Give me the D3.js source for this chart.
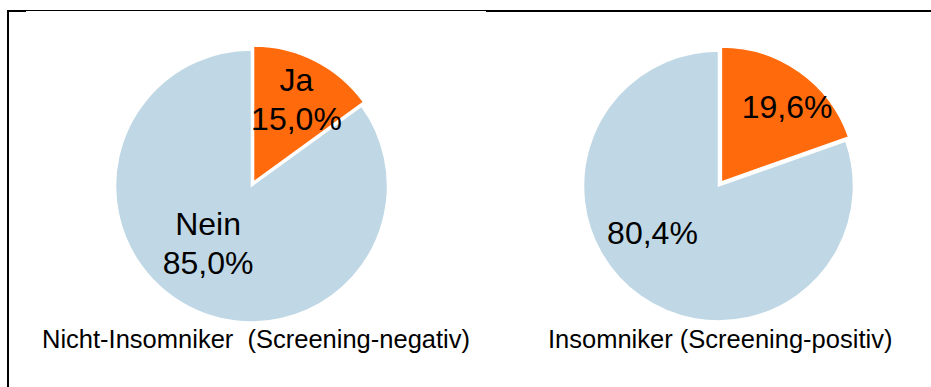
<!DOCTYPE html>
<html>
<head>
<meta charset="utf-8">
<script src="https://cdn.jsdelivr.net/npm/d3@7"></script>
<style>
  html, body { margin: 0; padding: 0; background: #fff; }
  svg { display: block; }
  text { font-family: "Liberation Sans", Arial, Helvetica, sans-serif; fill: #000; }
</style>
</head>
<body>
<svg id="chart" width="931" height="387"></svg>
<script>
// Answer categories and shares (percent) for the two groups
const categories = ["Ja", "Nein"];
const groupTitles = ["Nicht-Insomniker  (Screening-negativ)", "Insomniker (Screening-positiv)"];
const nichtInsomniker = [15.0, 85.0];
const insomniker = [19.6, 80.4];
// Whether the category name is printed next to the percentage
const showCategory = [true, false];

const colors = d3.scaleOrdinal().domain(categories).range(["#ff6a0c", "#c0d8e5"]);
const fmt = v => d3.format(".1f")(v).replace(".", ",") + "%";

const svg = d3.select("#chart");

// Frame lines
svg.append("rect").attr("x", 7).attr("y", 10).attr("width", 2).attr("height", 377).attr("fill", "#000");
svg.append("rect").attr("x", 7).attr("y", 10).attr("width", 19).attr("height", 2).attr("fill", "#000");
svg.append("rect").attr("x", 26).attr("y", 10).attr("width", 460).attr("height", 1).attr("fill", "#000");
svg.append("rect").attr("x", 486).attr("y", 10).attr("width", 445).attr("height", 2).attr("fill", "#000");

const layout = [
  { cx: 251.5, cy: 186, r: 136, titleX: 42, nudge: [[5, -9], [-3.5, -21]] },
  { cx: 718.5, cy: 186, r: 135, titleX: 548, nudge: [[17.7, -7.2], [-15.2, -25.8]] }
];
const explode = [4.5, 5];
const labelRadius = 88;
const fontSize = 32;
const lineH = 39;
const capH = 23;

const pie = d3.pie().sort(null).value(d => d.value);

[nichtInsomniker, insomniker].forEach((values, gi) => {
  const L = layout[gi];
  const data = categories.map((c, i) => ({ cat: c, value: values[i], idx: i }));
  const arcs = pie(data);
  const arc = d3.arc().innerRadius(0).outerRadius(L.r);
  const labelArc = d3.arc().innerRadius(labelRadius).outerRadius(labelRadius);

  const g = svg.append("g").attr("transform", `translate(${L.cx},${L.cy})`);

  g.selectAll("path.slice")
    .data(arcs)
    .join("path")
    .attr("class", "slice")
    .attr("d", arc)
    .attr("fill", d => colors(d.data.cat))
    .attr("stroke", "#fff")
    .attr("stroke-width", 1.5)
    .attr("stroke-linejoin", "miter")
    .attr("transform", d => {
      if (d.data.idx !== 0) return null;
      const mid = (d.startAngle + d.endAngle) / 2;
      const e = explode[gi];
      return `translate(${Math.sin(mid) * e},${-Math.cos(mid) * e})`;
    });

  // Redraw the exploded slice on top so its white edge stays visible
  g.selectAll("path.slice").filter(d => d.data.idx === 0).raise();

  arcs.forEach((d, i) => {
    const [x0, y0] = labelArc.centroid(d);
    const x = x0 + L.nudge[i][0];
    const y = y0 + L.nudge[i][1];
    const lines = showCategory[gi] ? [d.data.cat, fmt(d.data.value)] : [fmt(d.data.value)];
    const n = lines.length;
    const t = g.append("text")
      .attr("text-anchor", "middle")
      .attr("font-size", fontSize);
    lines.forEach((s, k) => {
      t.append("tspan")
        .attr("x", x)
        .attr("y", y + capH / 2 + (k - (n - 1) / 2) * lineH)
        .text(s);
    });
  });

  svg.append("text")
    .attr("x", L.titleX)
    .attr("y", 348)
    .attr("font-size", 25.5)
    .style("white-space", "pre")
    .text(groupTitles[gi]);
});
</script>
</body>
</html>
